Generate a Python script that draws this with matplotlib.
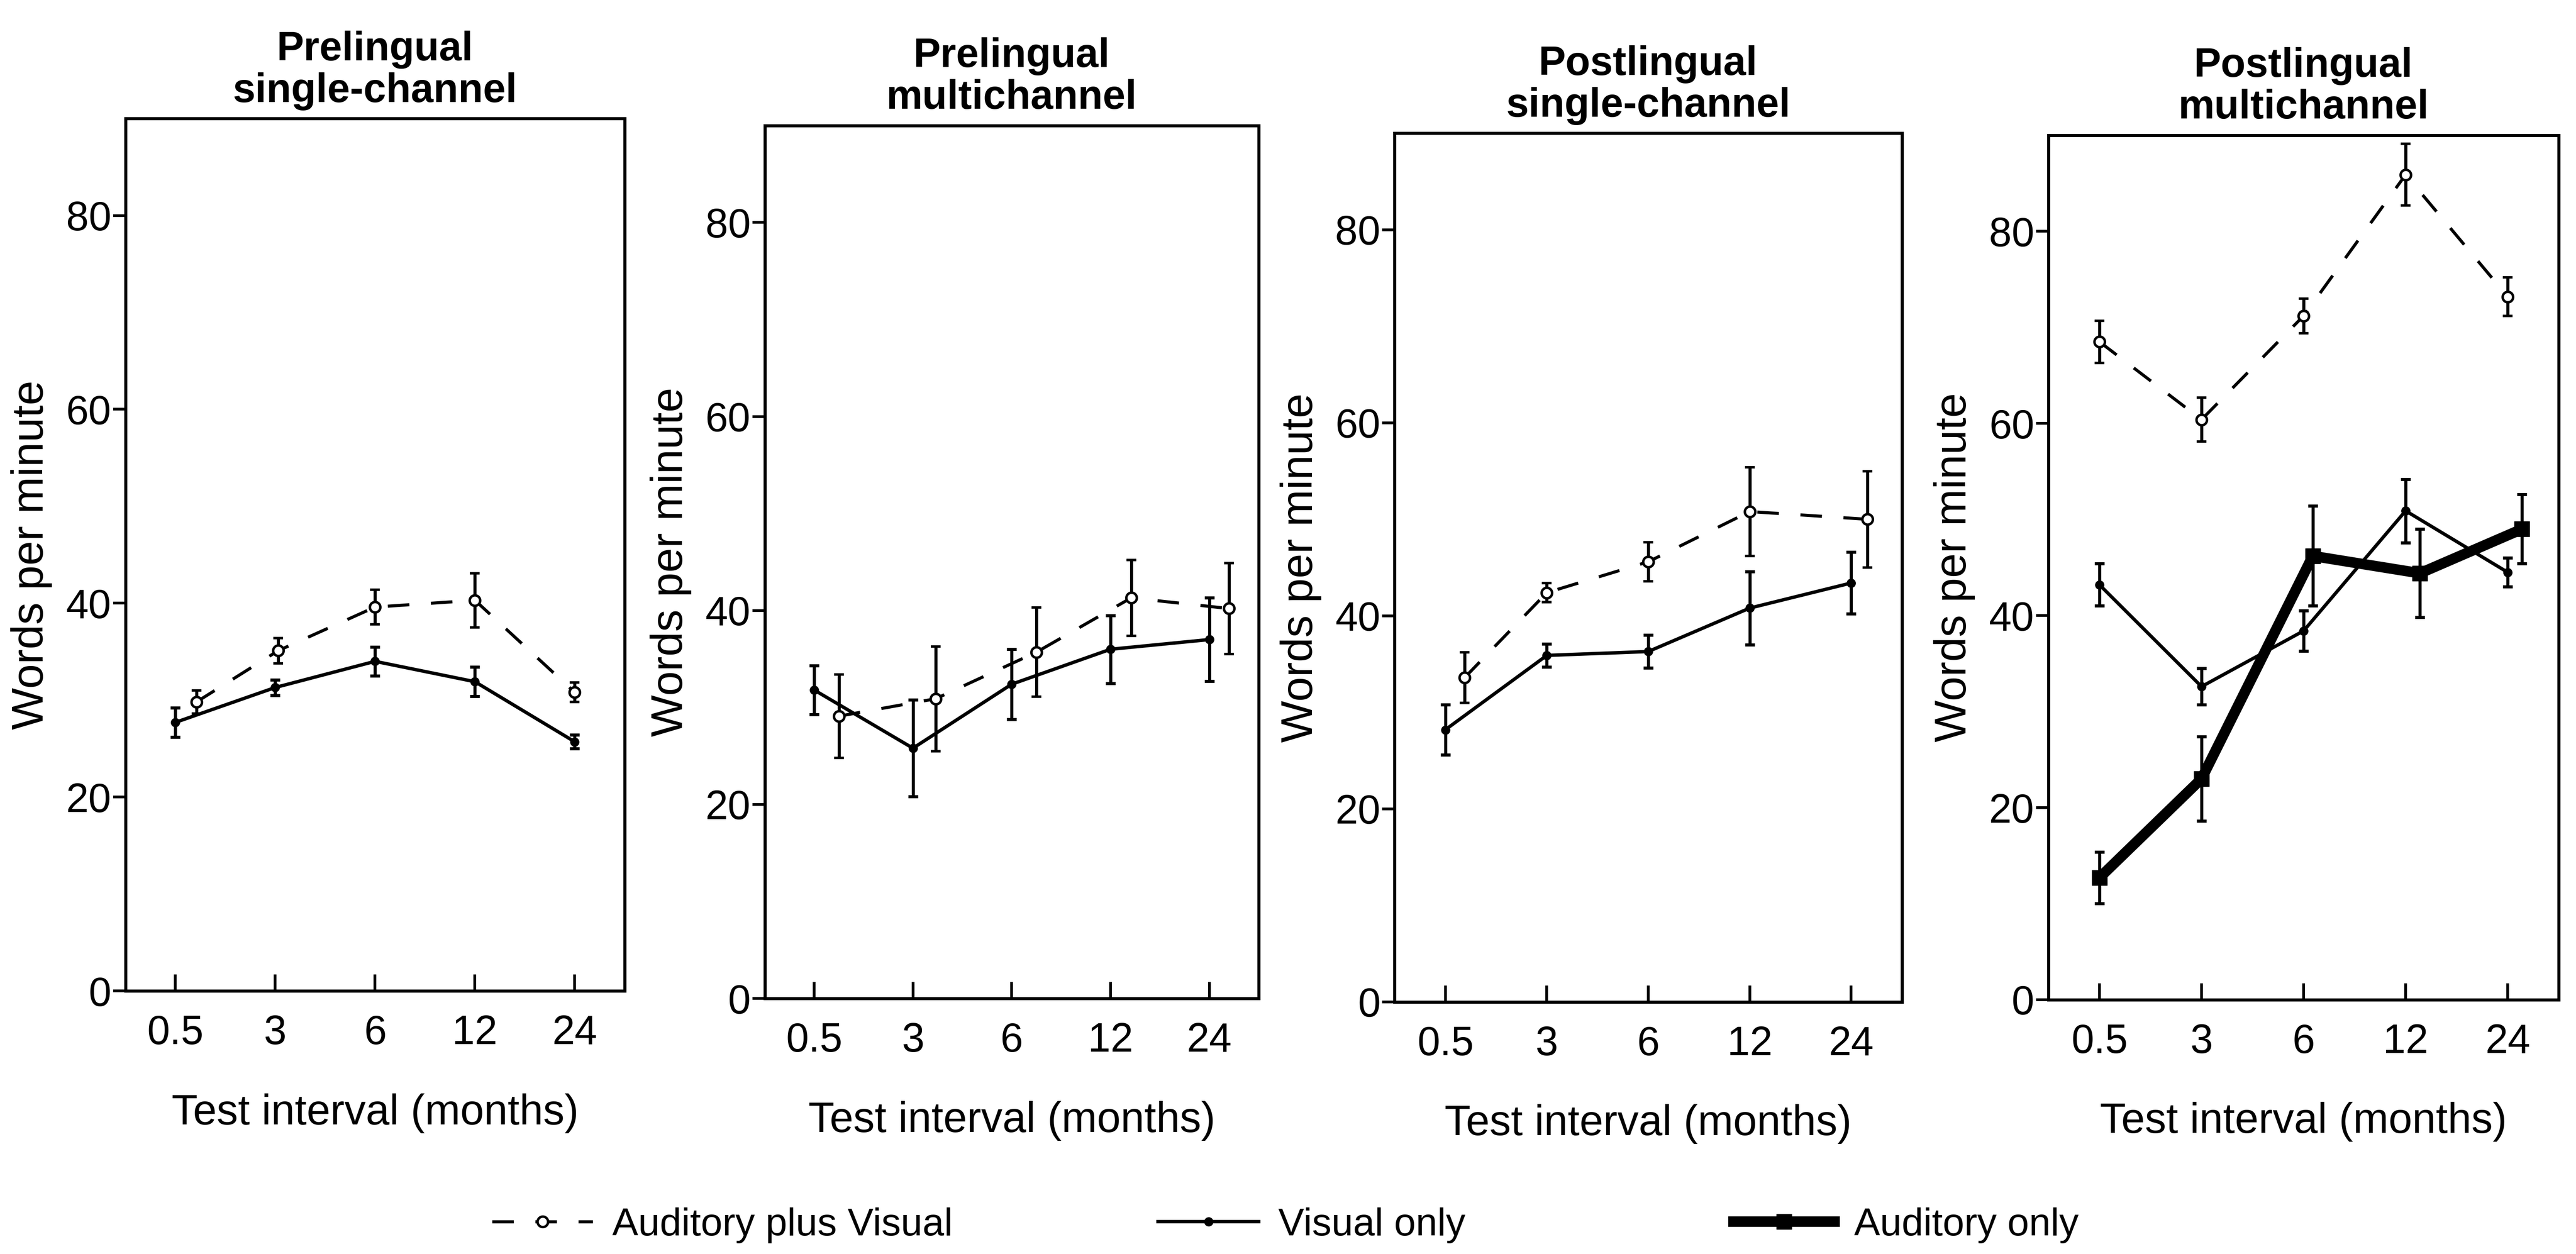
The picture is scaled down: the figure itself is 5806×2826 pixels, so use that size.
import matplotlib
matplotlib.use("Agg")
import matplotlib.pyplot as plt
from matplotlib import font_manager
from matplotlib.lines import Line2D
import numpy as np

# ---------------- data ----------------
intervals = ["0.5", "3", "6", "12", "24"]
titles = ["Prelingual\nsingle-channel", "Prelingual\nmultichannel",
          "Postlingual\nsingle-channel", "Postlingual\nmultichannel"]
series_names = ["Auditory plus Visual", "Visual only", "Auditory only"]
y_ticks = [0, 20, 40, 60, 80]

# Prelingual single-channel
p1_av = [29.8, 35.1, 39.6, 40.3, 30.8]
p1_av_err = [1.2, 1.3, 1.8, 2.8, 1.0]
p1_v = [27.7, 31.3, 34.0, 31.9, 25.7]
p1_v_err = [1.5, 0.8, 1.5, 1.5, 0.7]

# Prelingual multichannel
p2_av = [29.1, 30.9, 35.7, 41.3, 40.2]
p2_av_err = [4.3, 5.4, 4.6, 3.9, 4.7]
p2_v = [31.8, 25.8, 32.4, 36.0, 37.0]
p2_v_err = [2.5, 5.0, 3.6, 3.5, 4.3]

# Postlingual single-channel
p3_av = [33.6, 42.4, 45.6, 50.8, 50.0]
p3_av_err = [2.6, 1.0, 2.0, 4.6, 5.0]
p3_v = [28.2, 35.9, 36.3, 40.8, 43.4]
p3_v_err = [2.6, 1.2, 1.7, 3.8, 3.2]

# Postlingual multichannel
p4_av = [68.5, 60.4, 71.2, 85.9, 73.2]
p4_av_err = [2.2, 2.3, 1.8, 3.2, 2.0]
p4_v = [43.2, 32.6, 38.4, 50.9, 44.5]
p4_v_err = [2.2, 1.9, 2.1, 3.3, 1.5]
p4_a = [12.7, 23.0, 46.2, 44.4, 49.0]
p4_a_err = [2.7, 4.4, 5.2, 4.6, 3.6]

# ---------------- layout / style ----------------
# horizontal nudges (category units) used in the original to avoid overlap
nudge = {
    (0, "av"): [0.21, 0.03, 0, 0, 0],
    (1, "av"): [0.25, 0.23, 0.25, 0.21, 0.2],
    (2, "av"): [0.19, 0, 0, 0, 0.16],
    (3, "a"): [0, 0, 0.09, 0.14, 0.14],
}
axes_rects = [
    [0.0487, 0.2098, 0.1938, 0.6957],
    [0.2969, 0.2038, 0.1917, 0.6961],
    [0.5414, 0.2010, 0.1969, 0.6928],
    [0.7952, 0.2028, 0.1981, 0.6893],
]

names = {f.name for f in font_manager.fontManager.ttflist}
base = "Liberation Sans" if "Liberation Sans" in names else "DejaVu Sans"
narrow = "Liberation Sans Narrow" if "Liberation Sans Narrow" in names else None
if narrow:
    ylab_font, ylab_size = narrow, 80
    leg_font, leg_size = narrow, 74
else:
    ylab_font, ylab_size = base, 72
    leg_font, leg_size = base, 63

plt.rcParams["font.family"] = [base, "DejaVu Sans"]

styles = {
    "av": dict(color="black", linestyle=(0, (7, 7)), linewidth=5.0, marker="o",
               markersize=17, markerfacecolor="white", markeredgecolor="black",
               markeredgewidth=4),
    "v": dict(color="black", linestyle="-", linewidth=5.5, marker="o",
              markersize=14, markerfacecolor="black", markeredgecolor="black"),
    "a": dict(color="black", linestyle="-", linewidth=17, marker="s",
              markersize=25, markerfacecolor="black", markeredgecolor="black"),
}

panels = [
    [("av", p1_av, p1_av_err), ("v", p1_v, p1_v_err)],
    [("av", p2_av, p2_av_err), ("v", p2_v, p2_v_err)],
    [("av", p3_av, p3_av_err), ("v", p3_v, p3_v_err)],
    [("av", p4_av, p4_av_err), ("v", p4_v, p4_v_err), ("a", p4_a, p4_a_err)],
]

fig = plt.figure(figsize=(58.06, 28.26), dpi=100)
fig.patch.set_facecolor("white")

xpos = np.arange(len(intervals))
for i, (rect, title, series) in enumerate(zip(axes_rects, titles, panels)):
    ax = fig.add_axes(rect)
    for key, vals, errs in series:
        off = np.array(nudge.get((i, key), [0] * len(intervals)))
        st = styles[key]
        z = 4 if key == "av" else (3 if key == "v" else 2)
        ax.errorbar(xpos + off, vals, yerr=errs, capsize=8, elinewidth=5,
                    capthick=5, ecolor="black", zorder=z, **st)
    ax.set_xlim(-0.5, 4.5)
    ax.set_ylim(0, 90)
    ax.set_xticks(xpos)
    ax.set_xticklabels(intervals)
    ax.set_yticks(y_ticks)
    ax.tick_params(axis="y", direction="out", length=20, width=4.5, pad=3,
                   labelsize=66)
    ax.tick_params(axis="x", direction="in", length=27, width=4.5, pad=38,
                   labelsize=66)
    for sp in ax.spines.values():
        sp.set_linewidth(5)
    ax.set_title(title, fontsize=66, fontweight="bold", linespacing=1.12, pad=27)
    ax.set_ylabel("Words per minute", fontsize=ylab_size, family=ylab_font,
                  labelpad=22)
    ax.set_xlabel("Test interval (months)", fontsize=69, labelpad=66)

# legend at the bottom (three separate entries, as in the original)
leg_x = [0.191, 0.4495, 0.673]
for key, name, x in zip(["av", "v", "a"], series_names, leg_x):
    h = Line2D([], [], **styles[key])
    fig.legend([h], [name], loc="center left", bbox_to_anchor=(x, 0.023),
               frameon=False, borderpad=0, borderaxespad=0,
               handlelength=2.6, handletextpad=0.5,
               prop={"family": leg_font, "size": leg_size})

fig.savefig("out.png", dpi=100, facecolor="white")
